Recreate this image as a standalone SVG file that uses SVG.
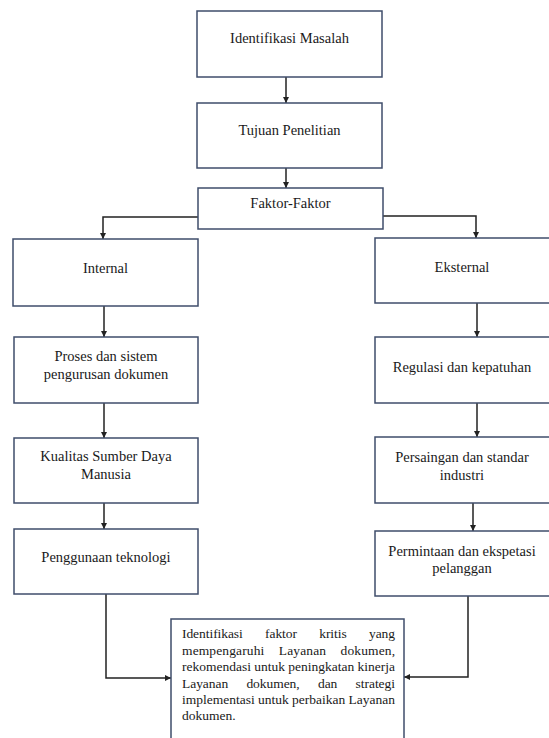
<svg xmlns="http://www.w3.org/2000/svg" width="549" height="738" viewBox="0 0 549 738">
<style>
.box{fill:#fff;stroke:#3f4d6b;stroke-width:1.5}
text{font-family:"Liberation Serif","Times New Roman","DejaVu Serif",serif;font-size:13.5px;fill:#1a1a1a}
.t{text-anchor:middle;font-size:14.5px}
.c{fill:none;stroke:#222;stroke-width:1.5}
</style>
<defs>
<marker id="ah" viewBox="0 0 10 10" refX="10" refY="5" markerWidth="6" markerHeight="6" markerUnits="userSpaceOnUse" orient="auto">
<path d="M0,0L10,5L0,10z" fill="#222"/>
</marker>
</defs>
<rect width="549" height="738" fill="#fff"/>
<g id="connectors">
<path class="c" d="M286,77V103" marker-end="url(#ah)"/>
<path class="c" d="M286,168V188" marker-end="url(#ah)"/>
<path class="c" d="M198,217H103V239" marker-end="url(#ah)"/>
<path class="c" d="M383,216H476V238" marker-end="url(#ah)"/>
<path class="c" d="M104,306V337" marker-end="url(#ah)"/>
<path class="c" d="M104,403V438" marker-end="url(#ah)"/>
<path class="c" d="M104,503V529" marker-end="url(#ah)"/>
<path class="c" d="M106,594V678H171" marker-end="url(#ah)"/>
<path class="c" d="M477,303V337" marker-end="url(#ah)"/>
<path class="c" d="M477,403V437" marker-end="url(#ah)"/>
<path class="c" d="M473,500V531" marker-end="url(#ah)"/>
<path class="c" d="M468,596V677H404" marker-end="url(#ah)"/>
</g>
<g id="n1"><rect class="box" x="197" y="11" width="185" height="66"/><text class="t" x="289.5" y="43">Identifikasi Masalah</text></g>
<g id="n2"><rect class="box" x="197" y="103" width="185" height="65"/><text class="t" x="289.5" y="135">Tujuan Penelitian</text></g>
<g id="n3"><rect class="box" x="198" y="188" width="185" height="41"/><text class="t" x="290.5" y="208">Faktor-Faktor</text></g>
<g id="n4"><rect class="box" x="13" y="239" width="185" height="67"/><text class="t" x="105.5" y="273">Internal</text></g>
<g id="n5"><rect class="box" x="14" y="337" width="184" height="66"/><text class="t" x="106" y="361">Proses dan sistem</text><text class="t" x="106" y="379">pengurusan dokumen</text></g>
<g id="n6"><rect class="box" x="14" y="438" width="184" height="65"/><text class="t" x="106" y="461">Kualitas Sumber Daya</text><text class="t" x="106" y="479">Manusia</text></g>
<g id="n7"><rect class="box" x="14" y="529" width="184" height="65"/><text class="t" x="106" y="562">Penggunaan teknologi</text></g>
<g id="n8"><rect class="box" x="375" y="238" width="178" height="65"/><text class="t" x="462" y="272">Eksternal</text></g>
<g id="n9"><rect class="box" x="375" y="337" width="178" height="66"/><text class="t" x="462" y="372">Regulasi dan kepatuhan</text></g>
<g id="n10"><rect class="box" x="375" y="437" width="178" height="66"/><text class="t" x="462" y="462">Persaingan dan standar</text><text class="t" x="462" y="480">industri</text></g>
<g id="n11"><rect class="box" x="375" y="531" width="178" height="65"/><text class="t" x="462" y="556">Permintaan dan ekspetasi</text><text class="t" x="462" y="573">pelanggan</text></g>
<g id="n12"><rect class="box" x="171" y="619" width="233" height="124"/>
<text x="182" y="638" word-spacing="19" textLength="213" lengthAdjust="spacing">Identifikasi faktor kritis yang</text>
<text x="182" y="654.5" word-spacing="11" textLength="213" lengthAdjust="spacing">mempengaruhi Layanan dokumen,</text>
<text x="182" y="671" textLength="213" lengthAdjust="spacing">rekomendasi untuk peningkatan kinerja</text>
<text x="182" y="687.5" word-spacing="15" textLength="213" lengthAdjust="spacing">Layanan dokumen, dan strategi</text>
<text x="182" y="704" textLength="213" lengthAdjust="spacing">implementasi untuk perbaikan Layanan</text>
<text x="182" y="720">dokumen.</text>
</g>
</svg>
